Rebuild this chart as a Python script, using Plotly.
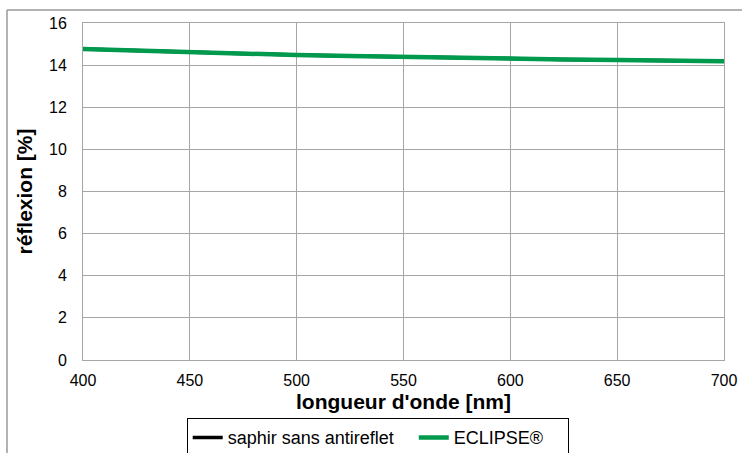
import plotly.graph_objects as go

wavelength = [400, 425, 450, 475, 500, 525, 550, 575, 600, 625, 650, 675, 700]
saphir = [14.76, 14.68, 14.61, 14.54, 14.48, 14.43, 14.38, 14.34, 14.30, 14.27, 14.24, 14.21, 14.18]
eclipse = [14.76, 14.68, 14.61, 14.54, 14.48, 14.43, 14.38, 14.34, 14.30, 14.27, 14.24, 14.21, 14.18]

W, H = 742, 453
L, R, T, B = 83, 742 - 724, 23, 453 - 360
pw, ph = W - L - R, H - T - B

def sx(px):  # screen x pixel -> paper
    return (px - L) / pw

def sy(py):  # screen y pixel -> paper
    return (H - B - py) / ph

fig = go.Figure()
fig.add_trace(go.Scatter(x=wavelength, y=saphir, mode="lines",
                         name="saphir sans antireflet" + "\u00a0" * 3,
                         line=dict(color="black", width=3.5)))
fig.add_trace(go.Scatter(x=wavelength, y=eclipse, mode="lines",
                         name="ECLIPSE®" + "\u00a0" * 4,
                         line=dict(color="#009A4E", width=4.5)))

grid = "#a6a6a6"
fig.update_layout(
    width=W, height=H,
    margin=dict(l=L, r=R, t=T, b=B, autoexpand=False),
    paper_bgcolor="white", plot_bgcolor="white",
    font=dict(family="Liberation Sans, Arial", color="black", size=16),
    xaxis=dict(range=[400, 700], dtick=50, showgrid=True, gridcolor=grid, gridwidth=1,
               showline=True, linecolor=grid, mirror=True, zeroline=False,
               ticks="outside", ticklen=6, tickcolor="rgba(0,0,0,0)", tickfont=dict(size=16),
               ticklabeloverflow="allow",
               title=dict(text="<b>longueur d'onde [nm]</b>", font=dict(size=21), standoff=6)),
    yaxis=dict(range=[0, 16], dtick=2, showgrid=True, gridcolor=grid, gridwidth=1,
               showline=True, linecolor=grid, mirror=True, zeroline=False,
               ticks="outside", ticklen=12, tickcolor="rgba(0,0,0,0)", tickfont=dict(size=16),
               title=dict(text="<b>réflexion [%]</b>", font=dict(size=21), standoff=10)),
    legend=dict(orientation="h", x=sx(378), xanchor="center",
                y=sy(418), yanchor="top",
                bordercolor="black", borderwidth=1.2, bgcolor="white",
                font=dict(size=18), itemwidth=30, tracegroupgap=0),
    showlegend=True,
)

frame = "#999999"
fig.add_shape(type="line", xref="paper", yref="paper",
              x0=sx(7), x1=sx(760), y0=sy(10), y1=sy(10),
              line=dict(color=frame, width=1.5))
fig.add_shape(type="line", xref="paper", yref="paper",
              x0=sx(7), x1=sx(7), y0=sy(10), y1=sy(470),
              line=dict(color=frame, width=1.5))

fig.write_html(
    "out.html",
    config={"displayModeBar": False},
    post_script="document.body.style.margin='0px';document.body.style.overflow='hidden';",
)
